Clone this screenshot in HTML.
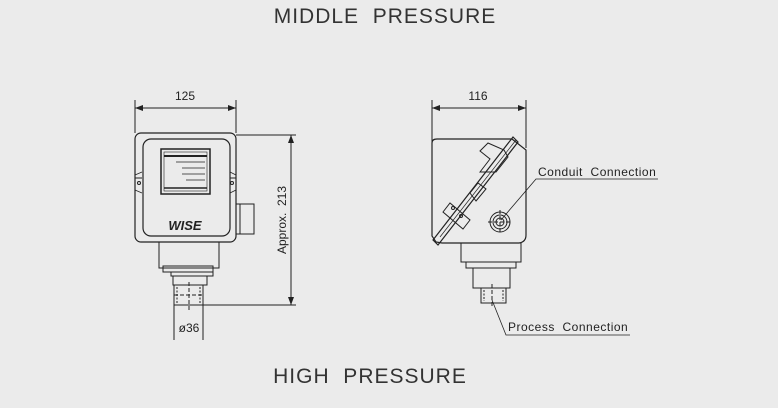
<!DOCTYPE html>
<html><head><style>
html,body{margin:0;padding:0;background:#ebebeb;}
svg{display:block;}
text{font-family:"Liberation Sans",sans-serif;fill:#222;}
</style></head><body>
<svg width="778" height="408" viewBox="0 0 778 408" xmlns="http://www.w3.org/2000/svg">
<defs>
<marker id="a" markerWidth="8" markerHeight="6" refX="8" refY="3" orient="auto-start-reverse" markerUnits="userSpaceOnUse"><path d="M0,0 L8,3 L0,6 z" fill="#222"/></marker>
</defs>
<rect width="778" height="408" fill="#ebebeb"/>
<text x="385" y="23" font-size="21" text-anchor="middle" letter-spacing="1" fill="#333" style="fill:#333" xml:space="preserve">MIDDLE  PRESSURE</text>
<text x="370" y="383" font-size="21" text-anchor="middle" letter-spacing="1" style="fill:#333" xml:space="preserve">HIGH  PRESSURE</text>

<g stroke="#222" stroke-width="1" fill="none">
<line x1="135" y1="100" x2="135" y2="133"/>
<line x1="236" y1="100" x2="236" y2="133"/>
<line x1="135" y1="108" x2="236" y2="108" marker-start="url(#a)" marker-end="url(#a)"/>
<rect x="135" y="133" width="101" height="109" rx="6" stroke-width="1.2"/>
<rect x="143" y="139" width="87" height="97" rx="8" stroke-width="1.2"/>
<rect x="161" y="149" width="49" height="45" stroke-width="1.5"/>
<rect x="164" y="152" width="43" height="39" stroke-width="0.6"/>
<line x1="164" y1="156" x2="207" y2="156" stroke-width="2"/>
<line x1="164" y1="188" x2="207" y2="188" stroke-width="1.5"/>
<path d="M176,162 H205 M182,168 H205 M182,174 H205 M186,180 H205" stroke-width="0.7"/>
<path d="M135,178 H142 M230,178 H236" />
<circle cx="139" cy="183" r="1.5"/><circle cx="232" cy="183" r="1.5"/>
<path d="M135,175 L142,172 M135,190 L142,193 M236,175 L230,172 M236,190 L230,193" stroke-width="0.7"/>
<rect x="236" y="204" width="18" height="30"/>
<line x1="240" y1="204" x2="240" y2="234"/>
<rect x="159" y="242" width="60" height="26"/>
<rect x="163" y="266" width="50" height="6"/>
<rect x="171" y="272" width="42" height="4"/>
<rect x="173" y="276" width="34" height="9"/>
<rect x="174" y="285" width="29" height="20"/>
<line x1="177" y1="287" x2="177" y2="303" stroke-dasharray="2,1.5"/>
<line x1="200" y1="287" x2="200" y2="303" stroke-dasharray="2,1.5"/>
<line x1="189" y1="282" x2="189" y2="310" stroke-dasharray="4,2"/>
<line x1="174" y1="295" x2="203" y2="295" stroke-dasharray="4,2"/>
<line x1="174" y1="305" x2="174" y2="340"/>
<line x1="203" y1="305" x2="203" y2="340"/>
<line x1="236" y1="135" x2="296" y2="135"/>
<line x1="203" y1="305" x2="296" y2="305"/>
<line x1="291" y1="135" x2="291" y2="305" marker-start="url(#a)" marker-end="url(#a)"/>

<line x1="432" y1="100" x2="432" y2="170"/>
<line x1="526" y1="100" x2="526" y2="148"/>
<line x1="432" y1="108" x2="526" y2="108" marker-start="url(#a)" marker-end="url(#a)"/>
<path d="M437,139 H512 L526,150 V235 Q526,242 519,243 H442 L436,242 L432,236 V143 Q432,139 437,139 Z" stroke-width="1.2"/>
<path d="M433,240 L513,137 L518,142 L438,245 Z" stroke-width="1.2"/>
<path d="M440,237 L516,140" stroke-width="0.7"/>
<path d="M480,172 L490,159 L480,151 L488,143 L504,150 L508,157 L496,172 Z" stroke-width="1"/>
<path d="M476,201 L486,189 L478,183 L470,193 Z" stroke-width="1"/>
<path d="M443,212 L450,203 L470,220 L463,229 Z" stroke-width="1"/>
<circle cx="453" cy="208" r="1.5"/><circle cx="461" cy="216" r="1.5"/>
<circle cx="500" cy="222" r="10"/>
<circle cx="500" cy="222" r="7"/>
<circle cx="500" cy="222" r="4"/>
<line x1="488" y1="222" x2="512" y2="222" stroke-dasharray="4,2"/>
<line x1="500" y1="210" x2="500" y2="234" stroke-dasharray="4,2"/>
<path d="M501,220 L536,179 H658" stroke-width="0.8"/>
<rect x="461" y="243" width="60" height="19"/>
<rect x="466" y="262" width="50" height="6"/>
<rect x="473" y="268" width="37" height="20"/>
<rect x="481" y="288" width="25" height="15"/>
<line x1="484" y1="290" x2="484" y2="301" stroke-dasharray="2,1.5"/>
<line x1="503" y1="290" x2="503" y2="301" stroke-dasharray="2,1.5"/>
<line x1="492" y1="284" x2="492" y2="308" stroke-dasharray="4,2"/>
<path d="M492,300 L506,335 H630" stroke-width="0.8"/>
</g>
<text x="185" y="100" font-size="12" text-anchor="middle">125</text>
<text x="189" y="332" font-size="12" text-anchor="middle">ø36</text>
<text x="185" y="230" font-size="13" font-weight="bold" font-style="italic" text-anchor="middle">WISE</text>
<text transform="translate(286,220) rotate(-90)" font-size="12" text-anchor="middle" xml:space="preserve">Approx.  213</text>
<text x="478" y="100" font-size="12" text-anchor="middle">116</text>
<text x="538" y="176" font-size="12" letter-spacing="0.5" xml:space="preserve">Conduit  Connection</text>
<text x="508" y="331" font-size="12" letter-spacing="0.5" xml:space="preserve">Process  Connection</text>
</svg>
</body></html>
